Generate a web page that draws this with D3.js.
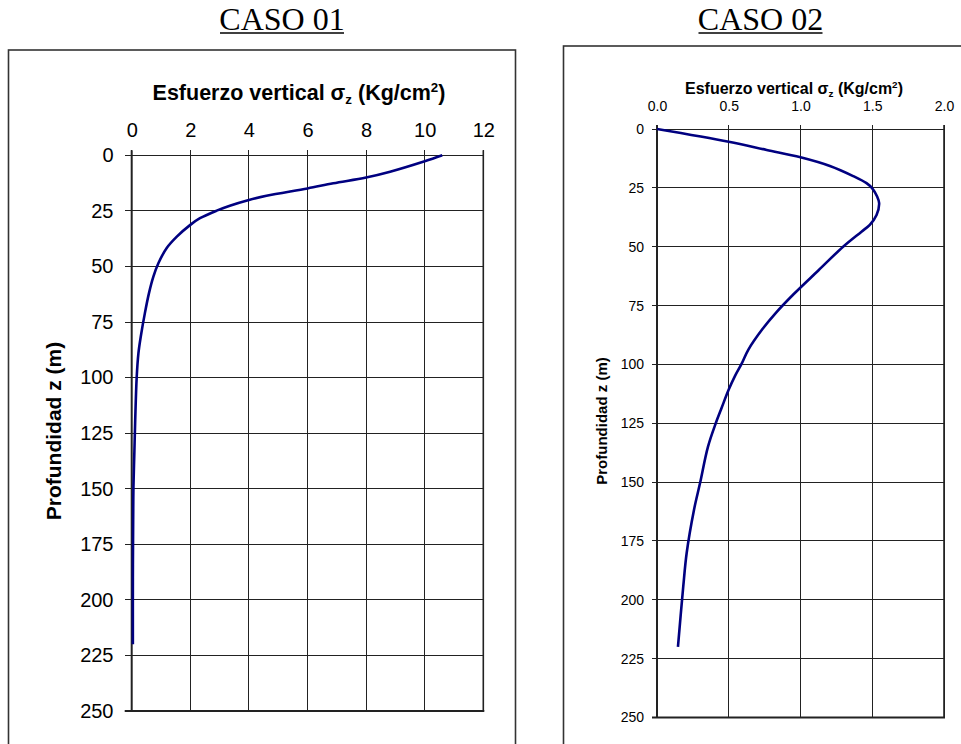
<!DOCTYPE html>
<html>
<head>
<meta charset="utf-8">
<script src="https://cdn.jsdelivr.net/npm/d3@7"></script>
<style>
  html, body { margin: 0; padding: 0; background: #fff; }
  svg { display: block; }
</style>
</head>
<body>
<svg id="chart" width="961" height="744"></svg>
<script>
// ---------------- DATA ----------------
const caso1Title = "CASO 01";
const caso1Depth  = [0, 2.7, 7.4, 10, 12.6, 14.9, 18.2, 20.1, 22.7, 24.9, 28.3, 31.3, 36.6, 41.8, 48.6, 54.6, 62, 71, 81.5, 89, 100, 119, 134, 149, 164, 190, 220];
const caso1Stress = [10.6, 10.0, 8.82, 8.0, 6.88, 6.0, 4.6, 4.0, 3.35, 2.9, 2.33, 2.0, 1.54, 1.19, 0.91, 0.74, 0.59, 0.45, 0.31, 0.23, 0.17, 0.12, 0.09, 0.06, 0.05, 0.04, 0.04];
const caso1XTicks = [0, 2, 4, 6, 8, 10, 12];
const caso1YTicks = [0, 25, 50, 75, 100, 125, 150, 175, 200, 225, 250];

const caso2Title = "CASO 02";
const caso2Depth  = [0, 5.4, 8.9, 12, 15.7, 20, 23, 25.2, 28.7, 31.5, 36.5, 40.7, 43.6, 50, 60, 70, 78, 85, 93.8, 99.7, 105, 110.7, 118.5, 124.9, 135, 150.4, 161.7, 180, 194.3, 220];
const caso2Stress = [0, 0.5, 0.764, 1.0, 1.205, 1.367, 1.46, 1.50, 1.534, 1.548, 1.53, 1.483, 1.425, 1.297, 1.126, 0.955, 0.83, 0.735, 0.636, 0.59, 0.543, 0.5, 0.45, 0.41, 0.355, 0.30, 0.258, 0.207, 0.183, 0.146];
const caso2XTicks = [0.0, 0.5, 1.0, 1.5, 2.0];
const caso2YTicks = [0, 25, 50, 75, 100, 125, 150, 175, 200, 225, 250];

const xTitleMain = "Esfuerzo vertical ";
const yTitle = "Profundidad z (m)";

// ---------------- LAYOUT ----------------
const svg = d3.select("#chart");
const SANS = "'Liberation Sans', Arial, sans-serif";
const SERIF = "'Liberation Serif', 'Times New Roman', serif";

const panels = [
  {
    title: caso1Title, depth: caso1Depth, stress: caso1Stress,
    xTicks: caso1XTicks, yTicks: caso1YTicks, xFmt: d3.format("d"),
    box: {x: 8.5, y: 50, w: 507, h: 720},
    plot: {x0: 131.7, x1: 483.3, y0: 155.3, y1: 711},
    titleX: 282, titleY: 30, titleW: 124,
    xTitleX: 299, xTitleY: 100, xTitleSize: 21.5,
    tickSize: 20, xTickY: 137, yTickX: 113.5, tickLen: 7, topTickLen: 5,
    yTitleX: 61, yTitleY: 431, yTitleSize: 21
  },
  {
    title: caso2Title, depth: caso2Depth, stress: caso2Stress,
    xTicks: caso2XTicks, yTicks: caso2YTicks, xFmt: d3.format(".1f"),
    box: {x: 563.5, y: 46, w: 420, h: 720},
    plot: {x0: 657, x1: 944, y0: 129, y1: 717.5},
    titleX: 760.5, titleY: 30, titleW: 124,
    xTitleX: 794, xTitleY: 94, xTitleSize: 16,
    tickSize: 14, xTickY: 111, yTickX: 644, tickLen: 5, topTickLen: 4,
    yTitleX: 607, yTitleY: 421, yTitleSize: 15
  }
];

panels.forEach(p => {
  const g = svg.append("g");

  // outer box
  g.append("rect")
    .attr("x", p.box.x).attr("y", p.box.y)
    .attr("width", p.box.w).attr("height", p.box.h)
    .attr("fill", "none").attr("stroke", "#333").attr("stroke-width", 1.6);

  // heading
  g.append("text")
    .attr("x", p.titleX).attr("y", p.titleY)
    .attr("text-anchor", "middle")
    .attr("font-family", SERIF).attr("font-size", 32)
    .attr("fill", "#000")
    .text(p.title);
  g.append("line")
    .attr("x1", p.titleX - p.titleW / 2).attr("x2", p.titleX + p.titleW / 2)
    .attr("y1", p.titleY + 3).attr("y2", p.titleY + 3)
    .attr("stroke", "#000").attr("stroke-width", 1.5);

  const x = d3.scaleLinear()
    .domain([p.xTicks[0], p.xTicks[p.xTicks.length - 1]])
    .range([p.plot.x0, p.plot.x1]);
  const y = d3.scaleLinear()
    .domain([p.yTicks[0], p.yTicks[p.yTicks.length - 1]])
    .range([p.plot.y0, p.plot.y1]);

  // gridlines
  const grid = g.append("g").attr("stroke", "#222").attr("stroke-width", 1).attr("shape-rendering", "crispEdges");
  p.xTicks.forEach(v => {
    grid.append("line")
      .attr("x1", x(v)).attr("x2", x(v))
      .attr("y1", p.plot.y0 - p.topTickLen).attr("y2", p.plot.y1);
  });
  p.yTicks.forEach(v => {
    grid.append("line")
      .attr("x1", p.plot.x0 - p.tickLen).attr("x2", p.plot.x1)
      .attr("y1", y(v)).attr("y2", y(v));
  });

  // axes via d3 (labels)
  const xAxis = d3.axisTop(x).tickValues(p.xTicks).tickFormat(p.xFmt).tickSize(0);
  const xg = g.append("g").attr("transform", `translate(0,${p.xTickY})`).call(xAxis);
  xg.select(".domain").remove();
  xg.selectAll("text")
    .attr("dy", 0).attr("y", 0)
    .attr("font-family", SANS).attr("font-size", p.tickSize).attr("fill", "#000");

  const yAxis = d3.axisLeft(y).tickValues(p.yTicks).tickSize(0);
  const yg = g.append("g").attr("transform", `translate(${p.yTickX},0)`).call(yAxis);
  yg.select(".domain").remove();
  yg.selectAll("text")
    .attr("x", 0)
    .attr("font-family", SANS).attr("font-size", p.tickSize).attr("fill", "#000");

  // left axis / bottom axis emphasis
  g.append("line")
    .attr("x1", p.plot.x0).attr("x2", p.plot.x0)
    .attr("y1", p.plot.y0 - p.topTickLen).attr("y2", p.plot.y1 + 0.5)
    .attr("stroke", "#222").attr("stroke-width", 2);
  g.append("line")
    .attr("x1", p.plot.x0 - p.tickLen).attr("x2", p.plot.x1 + 1)
    .attr("y1", p.plot.y1).attr("y2", p.plot.y1)
    .attr("stroke", "#222").attr("stroke-width", 1.8);
  g.append("line")
    .attr("x1", p.plot.x1).attr("x2", p.plot.x1)
    .attr("y1", p.plot.y0 - p.topTickLen).attr("y2", p.plot.y1)
    .attr("stroke", "#222").attr("stroke-width", 1.6);

  // x axis title
  const xt = g.append("text")
    .attr("x", p.xTitleX).attr("y", p.xTitleY)
    .attr("text-anchor", "middle")
    .attr("font-family", SANS).attr("font-weight", "bold")
    .attr("font-size", p.xTitleSize).attr("fill", "#000");
  xt.append("tspan").text(xTitleMain);
  xt.append("tspan").text("σ");
  xt.append("tspan").attr("font-size", p.xTitleSize * 0.62).attr("dy", p.xTitleSize * 0.18).text("z");
  xt.append("tspan").attr("dy", -p.xTitleSize * 0.18).text(" (Kg/cm");
  xt.append("tspan").attr("font-size", p.xTitleSize * 0.62).attr("dy", -p.xTitleSize * 0.38).text("2");
  xt.append("tspan").attr("dy", p.xTitleSize * 0.38).text(")");

  // y axis title
  g.append("text")
    .attr("transform", `translate(${p.yTitleX},${p.yTitleY}) rotate(-90)`)
    .attr("text-anchor", "middle")
    .attr("font-family", SANS).attr("font-weight", "bold")
    .attr("font-size", p.yTitleSize).attr("fill", "#000")
    .text(yTitle);

  // curve
  const pts = p.depth.map((d, i) => [p.stress[i], d]);
  const line = d3.line()
    .x(d => x(d[0])).y(d => y(d[1]))
    .curve(d3.curveCatmullRom.alpha(0.5));
  g.append("path")
    .datum(pts)
    .attr("d", line)
    .attr("fill", "none")
    .attr("stroke", "#000080")
    .attr("stroke-width", 2.6)
    .attr("stroke-linejoin", "round");
});
</script>
</body>
</html>
